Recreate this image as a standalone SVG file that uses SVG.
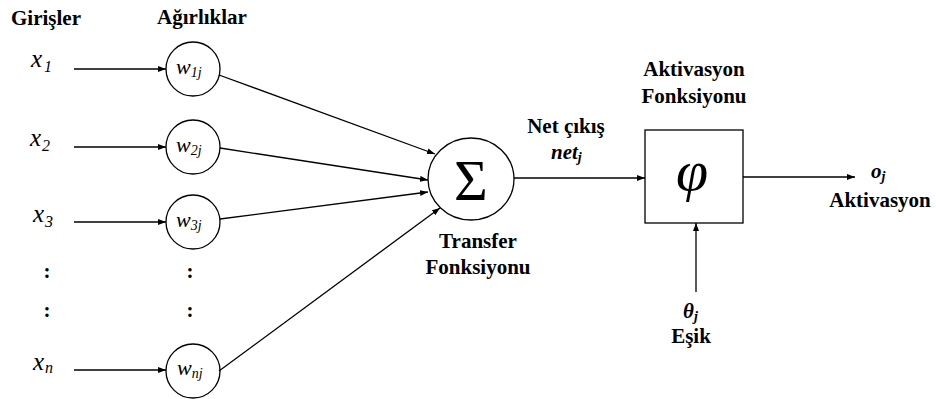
<svg xmlns="http://www.w3.org/2000/svg" width="936" height="399" viewBox="0 0 936 399">
<defs>
<marker id="ah" markerWidth="8" markerHeight="6" refX="8" refY="3" orient="auto" markerUnits="userSpaceOnUse">
<path d="M0,0 L8,3 L0,6 Z" fill="#000"/>
</marker>
<style>
.node{fill:#fff;stroke:#000;stroke-width:1.3}
.edge{stroke:#000;stroke-width:1.3;fill:none;marker-end:url(#ah)}
</style>
</defs>
<rect width="936" height="399" fill="#fff"/>

<text x="46" y="25" text-anchor="middle" font-family="'Liberation Serif', serif" font-weight="bold" font-size="21">Girişler</text>
<text x="202" y="24" text-anchor="middle" font-family="'Liberation Serif', serif" font-weight="bold" font-size="21">Ağırlıklar</text>

<g id="inputs">
<text x="31" y="67" font-family="'Liberation Serif', serif" font-style="italic" font-size="25">x<tspan font-size="16" dx="2" dy="5">1</tspan></text>
<text x="30" y="146" font-family="'Liberation Serif', serif" font-style="italic" font-size="25">x<tspan font-size="16" dx="1" dy="5">2</tspan></text>
<text x="33" y="222" font-family="'Liberation Serif', serif" font-style="italic" font-size="25">x<tspan font-size="16" dx="1" dy="5">3</tspan></text>
<text x="33" y="370" font-family="'Liberation Serif', serif" font-style="italic" font-size="25">x<tspan font-size="16" dx="1" dy="3">n</tspan></text>
<text x="47" y="278" text-anchor="middle" font-family="'Liberation Serif', serif" font-weight="bold" font-size="21">:</text>
<text x="47" y="317" text-anchor="middle" font-family="'Liberation Serif', serif" font-weight="bold" font-size="21">:</text>
</g>

<g id="w1j"><circle class="node" cx="193" cy="69" r="27"/><text x="176" y="74" font-family="'Liberation Serif', serif" font-style="italic" font-size="22">w<tspan font-size="14" dy="3">1j</tspan></text></g>
<g id="w2j"><circle class="node" cx="193" cy="147" r="27"/><text x="176" y="152" font-family="'Liberation Serif', serif" font-style="italic" font-size="22">w<tspan font-size="14" dy="3">2j</tspan></text></g>
<g id="w3j"><circle class="node" cx="193" cy="222" r="27"/><text x="176" y="227" font-family="'Liberation Serif', serif" font-style="italic" font-size="22">w<tspan font-size="14" dy="3">3j</tspan></text></g>
<g id="wnj"><circle class="node" cx="193" cy="371" r="27"/><text x="177" y="375" font-family="'Liberation Serif', serif" font-style="italic" font-size="22">w<tspan font-size="14" dy="3">nj</tspan></text></g>
<g id="wdots">
<text x="190" y="278" text-anchor="middle" font-family="'Liberation Serif', serif" font-weight="bold" font-size="21">:</text>
<text x="190" y="317" text-anchor="middle" font-family="'Liberation Serif', serif" font-weight="bold" font-size="21">:</text>
</g>

<g id="sum">
<ellipse class="node" cx="471" cy="179" rx="43" ry="41"/>
<text x="471" y="200" text-anchor="middle" font-size="58" font-family="'Liberation Serif', serif">Σ</text>
<text x="478" y="248" text-anchor="middle" font-family="'Liberation Serif', serif" font-weight="bold" font-size="21">Transfer</text>
<text x="478" y="274" text-anchor="middle" font-family="'Liberation Serif', serif" font-weight="bold" font-size="21">Fonksiyonu</text>
</g>

<g id="netlabel">
<text x="566" y="133" text-anchor="middle" font-family="'Liberation Serif', serif" font-weight="bold" font-size="21">Net çıkış</text>
<text x="551" y="159" font-family="'Liberation Serif', serif" font-weight="bold" font-style="italic" font-size="21">net<tspan font-size="14" dy="3">j</tspan></text>
</g>

<g id="activation">
<rect class="node" x="645" y="130" width="98" height="93"/>
<text x="692" y="190" text-anchor="middle" font-style="italic" font-size="58" font-family="'Liberation Serif', serif">φ</text>
<text x="694" y="76" text-anchor="middle" font-family="'Liberation Serif', serif" font-weight="bold" font-size="21">Aktivasyon</text>
<text x="694" y="103" text-anchor="middle" font-family="'Liberation Serif', serif" font-weight="bold" font-size="21">Fonksiyonu</text>
</g>

<g id="threshold">
<text x="683" y="318" font-family="'Liberation Serif', serif" font-weight="bold" font-style="italic" font-size="21">θ<tspan font-size="14" dy="3">j</tspan></text>
<text x="691" y="343" text-anchor="middle" font-family="'Liberation Serif', serif" font-weight="bold" font-size="21">Eşik</text>
</g>

<g id="output">
<text x="871" y="178" font-family="'Liberation Serif', serif" font-weight="bold" font-style="italic" font-size="21">o<tspan font-size="14" dy="3">j</tspan></text>
<text x="880" y="207" text-anchor="middle" font-family="'Liberation Serif', serif" font-weight="bold" font-size="21">Aktivasyon</text>
</g>

<g id="connectors">
<line class="edge" x1="74" y1="69" x2="166" y2="69"/>
<line class="edge" x1="74" y1="147" x2="166" y2="147"/>
<line class="edge" x1="74" y1="222" x2="166" y2="222"/>
<line class="edge" x1="74" y1="370" x2="166" y2="370"/>
<line class="edge" x1="219" y1="75" x2="435" y2="154"/>
<line class="edge" x1="220" y1="148" x2="428" y2="180"/>
<line class="edge" x1="220" y1="219" x2="428" y2="192"/>
<line class="edge" x1="219" y1="371" x2="440" y2="208"/>
<line class="edge" x1="514" y1="178" x2="645" y2="178"/>
<line class="edge" x1="743" y1="177" x2="855" y2="177"/>
<line class="edge" x1="696" y1="292" x2="696" y2="223"/>
</g>
</svg>
